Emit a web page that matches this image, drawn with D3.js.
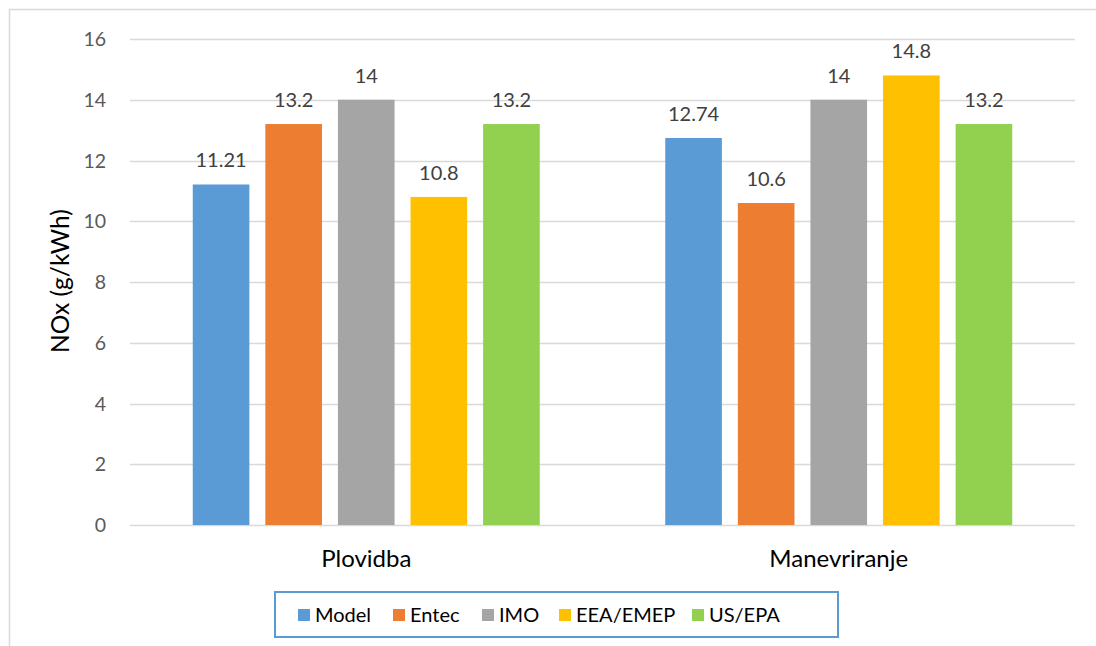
<!DOCTYPE html>
<html>
<head>
<meta charset="utf-8">
<script src="https://cdn.jsdelivr.net/npm/d3@7"></script>
<style>
html,body{margin:0;padding:0;background:#fff;}
text{font-family:Lato,"Open Sans",sans-serif;}
</style>
</head>
<body>
<svg id="chart" width="1096" height="646"></svg>
<script>
const categories = ["Plovidba", "Manevriranje"];
const series = ["Model", "Entec", "IMO", "EEA/EMEP", "US/EPA"];
const valuesModel = [11.21, 12.74];
const valuesEntec = [13.2, 10.6];
const valuesIMO = [14, 14];
const valuesEEA = [10.8, 14.8];
const valuesUSEPA = [13.2, 13.2];
const yTicks = [0, 2, 4, 6, 8, 10, 12, 14, 16];
const colors = ["#5B9BD5", "#ED7D31", "#A5A5A5", "#FFC000", "#92D050"];

const seriesValues = [valuesModel, valuesEntec, valuesIMO, valuesEEA, valuesUSEPA];

const svg = d3.select("#chart");
// outer chart border
svg.append("rect").attr("x", 9.5).attr("y", 9.5).attr("width", 1100).attr("height", 660)
  .attr("fill", "none").attr("stroke", "#D9D9D9").attr("stroke-width", 1.5);

const plot = {left: 130, right: 1075, top: 39, bottom: 525};
const y = d3.scaleLinear().domain([0, 16]).range([plot.bottom, plot.top]);
const x0 = d3.scaleBand().domain(categories).range([plot.left, plot.right]).padding(0);

// gridlines
svg.append("g").selectAll("line").data(yTicks).join("line")
  .attr("x1", plot.left).attr("x2", plot.right)
  .attr("y1", d => Math.round(y(d)) + 0.5).attr("y2", d => Math.round(y(d)) + 0.5)
  .attr("stroke", "#D9D9D9").attr("stroke-width", 1.3);

// y tick labels
svg.append("g").selectAll("text").data(yTicks).join("text")
  .attr("x", 106).attr("y", d => y(d)).attr("dy", "0.36em")
  .attr("text-anchor", "end").attr("fill", "#595959").attr("font-size", 19.5)
  .text(d => d);

// bars
const groups = svg.append("g").selectAll("g").data(categories).join("g");
groups.each(function(cat, ci) {
  const c = x0(cat) + x0.bandwidth() / 2;
  const x1 = d3.scaleBand().domain(series).range([c - 173.5, c + 173.5]).paddingInner(0.22).paddingOuter(0);
  const g = d3.select(this);
  const data = series.map((s, si) => ({s, si, v: seriesValues[si][ci]}));
  g.selectAll("rect").data(data).join("rect")
    .attr("x", d => x1(d.s)).attr("width", x1.bandwidth())
    .attr("y", d => y(d.v)).attr("height", d => y(0) - y(d.v))
    .attr("fill", d => colors[d.si]);
  g.selectAll("text.val").data(data).join("text").attr("class", "val")
    .attr("x", d => x1(d.s) + x1.bandwidth() / 2).attr("y", d => y(d.v) - 17)
    .attr("text-anchor", "middle").attr("fill", "#404040").attr("font-size", 20)
    .text(d => d.v);
  g.append("text").attr("x", c).attr("y", 567).attr("text-anchor", "middle")
    .attr("fill", "#000").attr("font-size", 24).text(cat);
});

// y axis title
svg.append("text").attr("transform", "translate(69,281) rotate(-90)")
  .attr("text-anchor", "middle").attr("fill", "#000").attr("font-size", 24.5)
  .text("NOx (g/kWh)");

// legend
svg.append("rect").attr("x", 275).attr("y", 592).attr("width", 563).attr("height", 45)
  .attr("fill", "#fff").attr("stroke", "#5B9BD5").attr("stroke-width", 2);
const legX = [298, 393, 482, 559, 692];
const leg = svg.append("g").selectAll("g").data(series).join("g")
  .attr("transform", (d, i) => `translate(${legX[i]},615)`);
leg.append("rect").attr("x", 0).attr("y", -6).attr("width", 12).attr("height", 12)
  .attr("fill", (d, i) => colors[i]);
leg.append("text").attr("x", 17).attr("y", 0).attr("dy", "0.36em")
  .attr("fill", "#000").attr("font-size", 20).text(d => d);
</script>
</body>
</html>
